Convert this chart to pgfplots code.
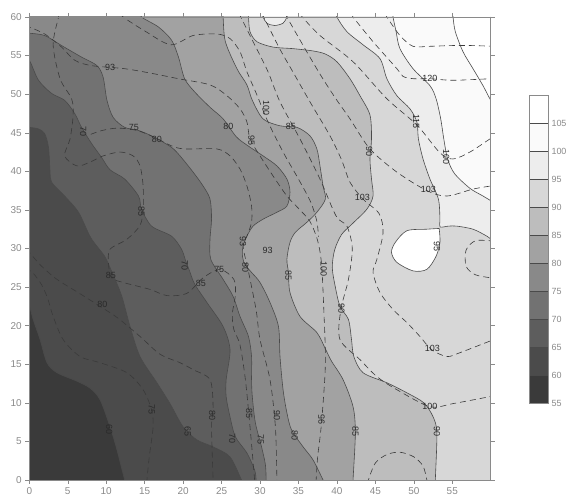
\documentclass[border=0pt]{standalone}
\usepackage{fontspec}
\setmainfont{Liberation Sans}
\usepackage{pgfplots}
\pgfplotsset{compat=1.18}
\definecolor{c55}{HTML}{3A3A3A}
\definecolor{c60}{HTML}{4B4B4B}
\definecolor{c65}{HTML}{5D5D5D}
\definecolor{c70}{HTML}{727272}
\definecolor{c75}{HTML}{898989}
\definecolor{c80}{HTML}{A2A2A2}
\definecolor{c85}{HTML}{BDBDBD}
\definecolor{c90}{HTML}{D7D7D7}
\definecolor{c95}{HTML}{EDEDED}
\definecolor{c100}{HTML}{FAFAFA}
\definecolor{c105}{HTML}{FFFFFF}
\definecolor{lc}{HTML}{4A4A4A}
\definecolor{dc}{HTML}{3A3A3A}
\definecolor{tc}{HTML}{2A2A2A}
\definecolor{axc}{HTML}{8A8A8A}
\tikzset{lab/.style={font=\fontsize{9}{9}\selectfont, text=tc, inner sep=0pt}}
\pgfplotsset{
  lev/.style={smooth, draw=lc, line width=0.6pt, fill=#1},
  dsh/.style={smooth, draw=dc, line width=0.6pt, dash pattern=on 6bp off 4bp},
}
\begin{document}
\begin{tikzpicture}
\useasboundingbox (0,0) rectangle (568bp,496bp);
\begin{axis}[at={(29.3bp,16bp)}, anchor=south west, scale only axis,
  width=461.4bp, height=463bp, xmin=0, xmax=60, ymin=0, ymax=60,
  xtick={0,5,...,55}, ytick={0,5,...,60},
  tick align=outside, major tick length=4bp,
  axis line style={axc, line width=0.5pt}, tick style={axc, line width=0.5pt},
  ticklabel style={font=\fontsize{10}{11}\selectfont, text=axc},
  /pgf/number format/assume math mode=true,
  axis on top, clip=true]
% background (55-60)
\addplot[fill=c55, draw=none] coordinates {(-2,-2)(62,-2)(62,62)(-2,62)} --cycle;
% >=60
\addplot[lev=c60] coordinates {(-1,23.5)(0,22.5)(0.5,20.8)(1.4,18.2)(2.3,15.2)(3.6,13.9)(6.2,12.8)(7.9,11.9)(9.2,10.4)(10.5,6.9)(11.4,3.9)(12.4,0)(12.7,-1)(14.7,-4)(65,-6)(68,30)(66,66)(30,68)(-6,66)} --cycle;
% >=65
\addplot[lev=c65] coordinates {(-1,45.8)(0,45.7)(1.2,45.5)(2.0,44.9)(2.5,43.1)(2.7,40.0)(2.9,38.6)(4.6,36.8)(6.4,34.7)(8.0,31.4)(9.8,29.0)(10.6,27.3)(12.0,23.9)(13.1,19.9)(14.4,16.0)(16.6,12.6)(18.3,9.9)(20.0,6.9)(21.8,5.2)(23.9,4.3)(26.1,3.0)(27.6,0)(28.1,-1)(30.1,-4)(65,-6)(68,30)(66,66)(30,68)(-6,66)} --cycle;
% >=70
\addplot[lev=c70] coordinates {(-1,55.2)(0,54.4)(1.2,51.8)(2.9,50.1)(4.6,49.2)(5.9,47.5)(6.8,45.7)(8.1,43.6)(9.4,41.8)(10.5,40.2)(12.4,39.0)(14.2,36.8)(14.6,35.1)(15.9,32.9)(18.5,31.6)(19.8,29.9)(20.3,28.5)(20.8,27.2)(21.5,25.4)(23.1,23.0)(25.2,19.9)(26.1,16.9)(25.6,13.0)(25.6,10.8)(26.1,8.2)(26.8,5.6)(28.3,3.5)(29.3,1.3)(29.5,0)(29.6,-1)(31.6,-4)(65,-6)(68,30)(66,66)(30,68)(-6,66)} --cycle;
% >=75
\addplot[lev=c75] coordinates {(-1,58)(0,57.9)(2.0,57.6)(4.2,56.3)(6.8,54.8)(8.8,53.7)(9.6,52.2)(10.1,49.2)(10.9,47.0)(12.4,45.7)(14.2,45.3)(16.3,44.4)(18.5,43.1)(19.6,42.0)(21.3,39.9)(22.6,38.1)(23.5,36.4)(23.7,33.8)(23.5,31.2)(23.6,28.6)(25.2,26.0)(26.5,23.8)(27.4,21.2)(28.5,18.6)(28.9,16.0)(28.9,13.0)(29.0,10.8)(29.4,7.4)(30.2,4.3)(30.7,2.0)(30.8,0)(30.8,-1)(32.8,-4)(65,-6)(68,30)(66,66)(30,68)(-6,66)} --cycle;
% >=80
\addplot[lev=c80] coordinates {(14.2,61)(14.6,60)(16.8,58.7)(18.5,57.0)(19.4,54.8)(20.2,52.0)(21.5,50.3)(23.5,48.3)(25.2,46.8)(26.9,44.5)(28.3,43.4)(30.4,42.0)(32.2,40.7)(33.5,39.0)(33.9,37.3)(33.5,35.5)(32.2,34.7)(30.4,33.8)(29.1,32.9)(28.3,31.6)(27.8,30.3)(27.7,29.2)(28.0,28.0)(28.9,26.9)(30.0,25.6)(31.3,23.0)(32.4,19.9)(32.6,16.0)(33.0,11.7)(33.5,8.7)(34.1,6.5)(35.6,4.3)(36.9,2.6)(38.2,0)(38.7,-1)(40.7,-4)(65,-6)(68,30)(66,66)} --cycle;
% >=85
\addplot[lev=c85] coordinates {(25.1,61)(25.2,60)(25.5,56.8)(27.0,53.3)(28.3,51.2)(29.0,49.2)(30.4,46.8)(32.6,45.9)(34.8,45.7)(36.5,44.6)(37.4,42.9)(37.8,40.7)(38.2,38.1)(38.5,36.4)(37.4,34.7)(36.1,33.4)(34.6,32.1)(33.9,30.8)(33.5,28.6)(33.7,26.9)(33.9,24.3)(35.2,21.2)(37.4,19.1)(38.5,17.0)(39.3,15.4)(40.8,13.0)(42.1,9.5)(42.4,6.1)(42.1,0)(42.1,-1)(44.1,-4)(65,-6)(68,30)(66,66)} --cycle;
% >=90
\addplot[lev=c90] coordinates {(28.4,61)(28.5,60)(28.7,58.1)(29.6,56.8)(31.7,56.1)(34.3,55.9)(36.9,55.6)(38.5,55.2)(40.0,54.2)(41.7,52.0)(43.0,49.8)(44.3,47.3)(44.5,44.2)(44.3,41.6)(44.5,39.0)(44.7,36.8)(43.9,35.1)(42.0,33.2)(40.6,31.8)(39.7,29.8)(39.4,27.5)(39.8,25.0)(40.4,22.5)(41.5,20.8)(41.9,18.2)(42.2,16.0)(43.4,13.9)(46.5,12.6)(49.1,11.3)(51.3,10.0)(52.5,8.2)(53.0,6.1)(52.8,0)(52.8,-1)(54.8,-4)(65,-6)(68,30)(66,66)} --cycle;
% small bump >=95 at top
\addplot[lev=c95] coordinates {(30.0,61)(30.4,60)(30.9,59.2)(31.9,58.9)(33.0,59.2)(33.5,60)(33.8,61)} --cycle;
% >=95
\addplot[lev=c95] coordinates {(39.8,61)(40,60)(41.3,58.1)(43.4,56.4)(45.6,54.6)(46.5,52.0)(47.8,49.8)(49.5,48.1)(50.4,46.4)(50.6,44.2)(51.2,41.6)(52.1,39.0)(53.2,36.4)(53.4,33.8)(53.4,32.8)(54.5,32.9)(55.6,32.9)(57.7,32.5)(59.5,31.6)(61,30.7)(64,31)(67,50)(66,66)} --cycle;
% island
\addplot[lev=c105] coordinates {(53.3,32.6)(51.7,32.5)(49.1,32.3)(47.6,30.8)(47.1,29.5)(47.8,28.2)(49.9,27.1)(51.7,27.3)(52.9,29.0)(53.4,30.8)(53.3,32.6)} --cycle;
% >=100
\addplot[lev=c100] coordinates {(47.2,61)(47.3,60)(47.7,58.1)(48.2,55.9)(49.9,53.3)(52.1,51.1)(52.9,49.4)(53.5,46.8)(53.9,44.2)(54.4,41.6)(55.3,39.7)(57.3,37.8)(59.0,36.8)(60,36.2)(61,35.6)(64,36)(67,50)(66,66)} --cycle;
% >=105
\addplot[lev=c105] coordinates {(55.0,61)(55.1,60)(55.4,58.1)(56.4,55.5)(57.7,53.3)(59.0,51.1)(60,49.2)(61,47.5)(64,48)(67,56)(66,66)} --cycle;
% dashed contours
\addplot[dsh] coordinates {(-0.5,59)(0,58.7)(2,57.8)(4.2,56.1)(5.9,54.4)(8.1,53.7)(12.4,53.3)(15.9,52.7)(19.4,52)(23.5,51.2)(25.7,49.8)(27.4,48.1)(28.3,46.4)(28.7,44.2)(30,42)(31.7,39.4)(33.5,36.8)(35,35.2)(36.5,33.5)(37.5,31)(38,28)(38.3,22)(38.5,15)(38,7.4)(37.5,3)(37.3,0)(37.3,-0.5)};
\addplot[dsh] coordinates {(3.8,60.5)(3.8,60)(3.1,56.4)(4.0,52)(5.5,49.4)(5.7,47.3)(5.3,44.2)(4.6,42)(6.2,40.7)(7.9,41.2)(9.6,42)(11.8,42.5)(13.5,42)(14.4,40.7)(14.8,38.1)(14.8,35.1)(14.4,33)(12.7,31.2)(10.5,29.9)(10.3,28)(10.7,26.2)(12.2,25.6)(15.7,24.7)(17.9,23.9)(20.5,24.2)(22.6,26.2)(24.8,27.3)(26.6,26)(26.8,24)(26.4,21.5)(26.6,19.5)(27.4,17.5)(28.1,13)(28.7,6.9)(29.3,0)(29.3,-0.5)};
\addplot[dsh] coordinates {(-0.5,29.8)(0,29.5)(1.5,27.8)(3.6,26)(6.5,24.2)(9.2,22.5)(11.5,21)(14.4,18.6)(17,16.3)(19.6,15.2)(21.3,14.3)(23.5,13)(23.9,9.5)(23.7,6.9)(23.9,0)(23.9,-0.5)};
\addplot[dsh] coordinates {(-0.5,27.5)(0.5,26.8)(1.6,25.3)(2.4,23.5)(3.1,21.2)(4.4,18.2)(6.6,16)(9.2,15.2)(12.7,13.9)(14.8,11.7)(15.9,9.1)(16.1,6.9)(15.6,3)(15.3,0)(15.3,-0.5)};
\addplot[dsh] coordinates {(8,44.8)(9.5,45.3)(11.5,45.6)(14,45.3)(16.3,44.4)(18.5,43.3)(20.2,42.9)(24.4,42.9)(26.1,42)(27.4,40.3)(28.3,38.1)(28.9,35.5)(28.9,33.4)(28.3,31.6)(27.8,30.3)(28.5,27)(29.5,22)(30,18.2)(31.3,13)(32,6.9)(32.2,0)(32.2,-0.5)};
\addplot[dsh] coordinates {(12,60.5)(12.2,60)(15,58.2)(18.4,56.4)(21.3,57.6)(24.4,57.8)(26.1,57.2)(27.4,55.5)(28.3,52.9)(29.6,49.9)(31,46.5)(33,42.5)(35,39)(36.6,36)(37.4,33.5)(37.6,31.5)};
\addplot[dsh] coordinates {(27.3,60.5)(27.5,60)(29,57)(31,53)(32.6,49)(35.2,44.2)(37.8,39)(39.9,34.2)(41.3,32.9)(42,30)(41.5,26)(40.5,22)(40.4,18.2)(43,15.6)(45.2,13.4)(47.8,11.7)(52.1,9.5)(55.1,9.9)(59.9,10.8)(60.5,10.9)};
\addplot[dsh] coordinates {(30.3,60.5)(30.5,60)(32.5,56)(34.5,52.5)(36.5,49)(39.1,44.6)(40.6,41.5)(41.7,38.6)(43.4,36.4)(45.5,34.5)(46,32)(45.2,28.6)(44.7,26.9)(45.6,24.3)(47.3,22.1)(49.1,20.4)(50.8,18.6)(52.3,16.9)(54.3,16)(56,16.5)(59.9,18)(60.5,18.2)};
\addplot[dsh] coordinates {(33.3,60.5)(33.5,60)(35.5,56.5)(37.8,52.6)(39.8,49.5)(41.7,46.8)(44.3,42.9)(47.8,39.9)(51.7,37.5)(54.3,36.8)(57.7,37.7)(60,38.1)(60.5,38.2)};
\addplot[dsh] coordinates {(35.2,60.5)(35.5,60)(37.8,57.6)(42.1,54.2)(46.5,49.4)(50.4,46)(53.4,42.4)(55.1,41.6)(57.3,42.5)(59.9,44.2)(60.5,44.5)};
\addplot[dsh] coordinates {(41.9,60.5)(42.1,60)(44.7,56.8)(47.8,53.3)(48.6,52.3)(50,52)(52.1,52)(55.1,51.8)(60,52)(60.5,52)};
\addplot[dsh] coordinates {(46.3,60.5)(46.5,60)(48.2,57.6)(49.9,56.2)(52,56.2)(55,56.3)(57.5,56.3)(60.5,56.2)};
\addplot[dsh] coordinates {(44.1,-0.5)(44.1,0)(45,2.2)(46.5,3.3)(48.2,3.6)(50,3.0)(51.2,1.8)(51.7,0)(51.7,-0.5)};
\addplot[dsh] coordinates {(60.5,31)(60,31)(58,31)(56.8,29.8)(56.8,27.7)(58,26.6)(60,26.2)(60.5,26.1)};
% labels on solid contours
\node[lab, rotate=-90] at (7.0,45.2) {70};
\node[lab] at (13.6,45.7) {75};
\node[lab, rotate=-90] at (10.4,6.5) {60};
\node[lab, rotate=-90] at (20.6,6.3) {65};
\node[lab, rotate=-90] at (26.4,5.4) {70};
\node[lab, rotate=-90] at (30.1,5.2) {75};
\node[lab, rotate=-90] at (34.5,5.8) {80};
\node[lab, rotate=-90] at (42.4,6.3) {85};
\node[lab, rotate=-90] at (53.0,6.3) {90};
\node[lab, rotate=-90] at (20.2,27.8) {70};
\node[lab] at (24.7,27.3) {75};
\node[lab, rotate=-90] at (28.1,27.6) {80};
\node[lab, rotate=-90] at (33.7,26.5) {85};
\node[lab, rotate=-90] at (38.3,27.3) {100};
\node[lab, rotate=-90] at (40.6,22.2) {90};
\node[lab] at (25.9,45.8) {80};
\node[lab, rotate=-90] at (30.8,48.2) {100};
\node[lab] at (34.0,45.8) {85};
\node[lab, rotate=-90] at (44.2,42.6) {90};
\node[lab, rotate=-90] at (50.3,46.5) {115};
\node[lab, rotate=-90] at (54.2,41.8) {100};
\node[lab, rotate=-90] at (53.0,30.2) {95};
% labels on dashed contours
\node[lab] at (10.5,53.5) {93};
\node[lab, rotate=-90] at (28.9,44.0) {95};
\node[lab, rotate=90] at (38.0,7.8) {95};
\node[lab, rotate=-90] at (14.6,34.8) {85};
\node[lab] at (10.6,26.5) {85};
\node[lab] at (9.5,22.7) {80};
\node[lab, rotate=-90] at (15.9,9.1) {75};
\node[lab, rotate=-90] at (23.8,8.4) {80};
\node[lab, rotate=-90] at (28.6,8.6) {85};
\node[lab, rotate=-90] at (32.2,8.4) {90};
\node[lab] at (16.6,44.2) {80};
\node[lab, rotate=-90] at (27.8,30.9) {93};
\node[lab] at (31.0,29.8) {93};
\node[lab] at (22.3,25.5) {85};
\node[lab] at (52.1,9.6) {100};
\node[lab] at (52.4,17.0) {103};
\node[lab] at (43.3,36.6) {103};
\node[lab] at (51.9,37.6) {103};
\node[lab] at (52.1,52.1) {120};
\end{axis}
% colour bar
\begin{axis}[at={(529bp,93bp)}, anchor=south west, scale only axis,
  width=19bp, height=308bp, xmin=0, xmax=1, ymin=55, ymax=110,
  xtick=\empty, ytick={55,60,...,105}, yticklabel pos=right,
  ytick style={draw=none},
  axis line style={axc, line width=0.5pt},
  ticklabel style={font=\fontsize{9}{10}\selectfont, text=axc},
  /pgf/number format/assume math mode=true, axis on top]
\addplot[fill=c55, draw=lc] coordinates {(0,55)(1,55)(1,60)(0,60)} --cycle;
\addplot[fill=c60, draw=lc] coordinates {(0,60)(1,60)(1,65)(0,65)} --cycle;
\addplot[fill=c65, draw=lc] coordinates {(0,65)(1,65)(1,70)(0,70)} --cycle;
\addplot[fill=c70, draw=lc] coordinates {(0,70)(1,70)(1,75)(0,75)} --cycle;
\addplot[fill=c75, draw=lc] coordinates {(0,75)(1,75)(1,80)(0,80)} --cycle;
\addplot[fill=c80, draw=lc] coordinates {(0,80)(1,80)(1,85)(0,85)} --cycle;
\addplot[fill=c85, draw=lc] coordinates {(0,85)(1,85)(1,90)(0,90)} --cycle;
\addplot[fill=c90, draw=lc] coordinates {(0,90)(1,90)(1,95)(0,95)} --cycle;
\addplot[fill=c95, draw=lc] coordinates {(0,95)(1,95)(1,100)(0,100)} --cycle;
\addplot[fill=c100, draw=lc] coordinates {(0,100)(1,100)(1,105)(0,105)} --cycle;
\addplot[fill=c105, draw=none] coordinates {(0,105)(1,105)(1,110)(0,110)} --cycle;
\end{axis}
\end{tikzpicture}
\end{document}
